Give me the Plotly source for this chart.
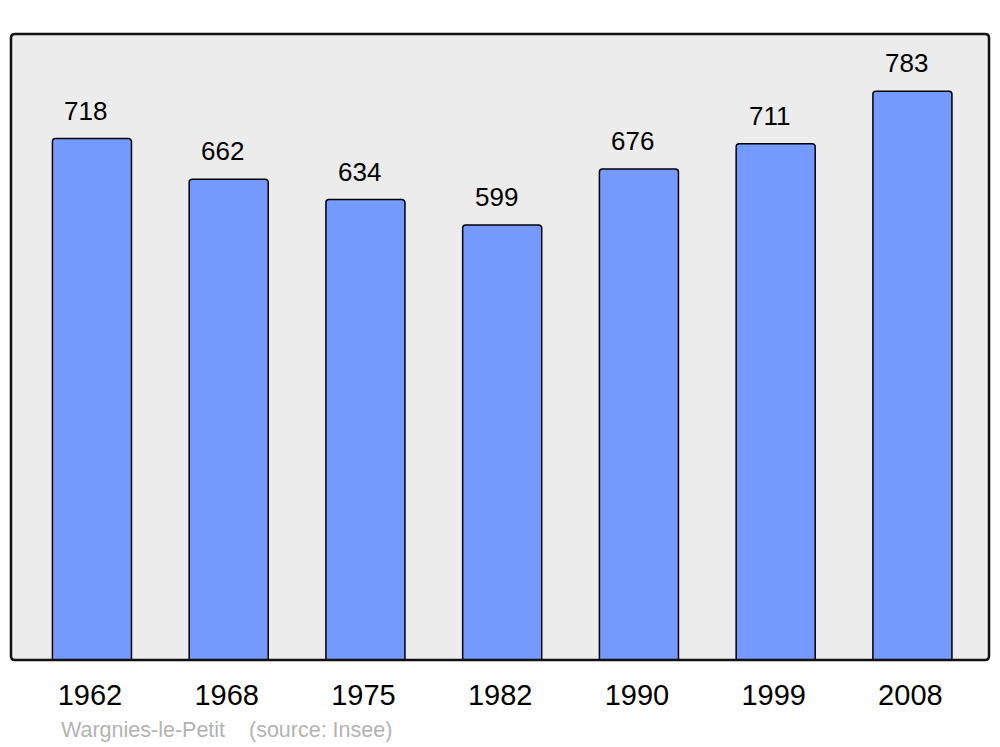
import plotly.graph_objects as go

years = ["1962", "1968", "1975", "1982", "1990", "1999", "2008"]
population = [718, 662, 634, 599, 676, 711, 783]
commune = "Wargnies-le-Petit"
source = "(source: Insee)"

W, H = 1000, 747
L, R, T, B = 11, 11, 34, 87
FONT = "Liberation Sans, Arial, sans-serif"

fig = go.Figure()
fig.add_trace(go.Bar(
    x=list(range(len(years))), y=population,
    width=0.578,
    marker=dict(color="#7499ff", line=dict(color="black", width=1.5), cornerradius=3),
    hoverinfo="skip",
))

for i, v in enumerate(population):
    fig.add_annotation(x=i, y=v, text=str(v), showarrow=False,
                       xshift=-6, yshift=28, yanchor="middle",
                       font=dict(family=FONT, size=26, color="black"))

# rounded plot border in paper coordinates
pw, ph = W - L - R, H - T - B
rx, ry = 4 / pw, 4 / ph
path = (f"M {rx},0 L {1-rx},0 Q 1,0 1,{ry} L 1,{1-ry} Q 1,1 {1-rx},1 "
        f"L {rx},1 Q 0,1 0,{1-ry} L 0,{ry} Q 0,0 {rx},0 Z")
fig.add_shape(type="path", path=path, xref="paper", yref="paper",
              line=dict(color="#111111", width=2.5), layer="above")

fig.add_annotation(xref="paper", yref="paper", x=(59 - L) / pw, y=-(730 - (H - B)) / ph,
                   xanchor="left", yanchor="middle", showarrow=False,
                   text=commune + "    " + source,
                   font=dict(family=FONT, size=21.5, color="#b3b3b3"))

fig.update_layout(
    width=W, height=H,
    margin=dict(l=L, r=R, t=T, b=B, pad=0),
    paper_bgcolor="white", plot_bgcolor="#ececec",
    showlegend=False,
    xaxis=dict(range=[-0.592, 6.56], tickmode="array",
               tickvals=[i - 0.015 for i in range(len(years))],
               ticktext=years, showgrid=False, zeroline=False, showline=False,
               ticks="", ticklabelstandoff=15,
               tickfont=dict(family=FONT, size=29, color="black")),
    yaxis=dict(range=[0, 862], showgrid=False, zeroline=False, showline=False,
               showticklabels=False, ticks=""),
)

fig.write_html("out.html", config={"displayModeBar": False},
               post_script="document.body.style.margin='0';document.body.style.overflow='hidden';")
